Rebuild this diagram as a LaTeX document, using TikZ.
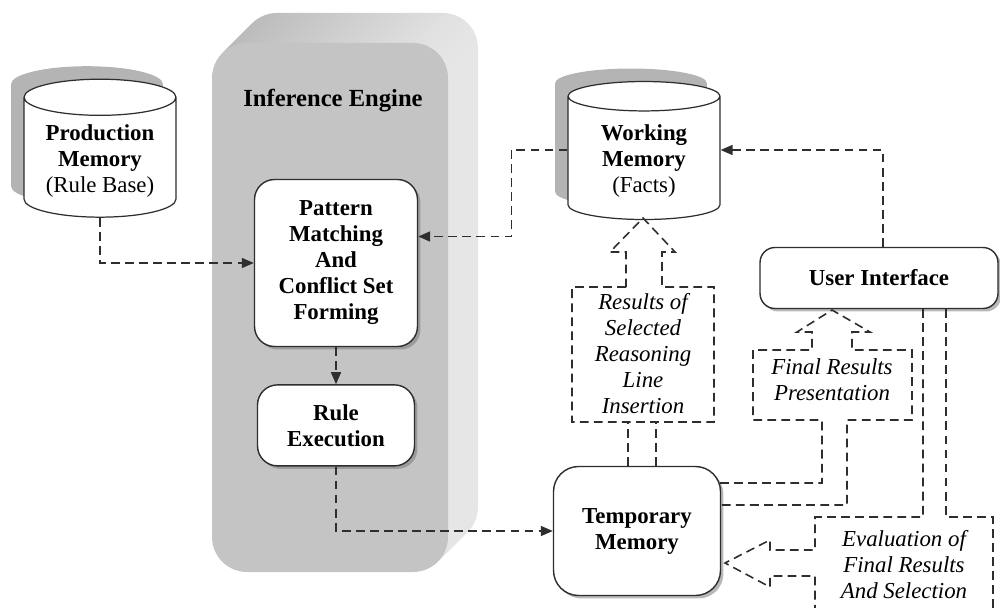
\documentclass[tikz,border=0pt]{standalone}
\usepackage{fontspec}
\setmainfont{Liberation Serif}
\usetikzlibrary{shapes.geometric,arrows.meta,positioning,shadows}
\definecolor{lineclr}{HTML}{2E2E2E}
\definecolor{iefront}{HTML}{C4C4C4}
\definecolor{iedark}{HTML}{B8B8B8}
\definecolor{ielight}{HTML}{E6E6E6}
\definecolor{shadowclr}{HTML}{B4B4B4}

\begin{document}
\begin{tikzpicture}[x=0.02cm, y=-0.02cm,
    every node/.style={font=\fontsize{13}{14.8}\selectfont, align=center, text=black},
    store/.style={cylinder, shape border rotate=90, aspect=0.3, draw=lineclr, line width=0.7pt,
        fill=white, minimum width=3.04cm, minimum height=2.76cm,
        general shadow={shadow xshift=-0.26cm, shadow yshift=0.26cm, fill=shadowclr}},
    unit/.style={draw=lineclr, line width=0.8pt, fill=white, rounded corners=0.4cm,
        font=\fontsize{13}{14.8}\selectfont\bfseries,
        drop shadow={shadow xshift=0.06cm, shadow yshift=-0.06cm, fill=black!55}},
    note/.style={font=\fontsize{13}{14.8}\selectfont\itshape},
    dashline/.style={draw=lineclr, line width=0.9pt, dash pattern=on 5pt off 3pt},
    flow/.style={dashline, -{Triangle[length=0.24cm, width=0.2cm]}},
  ]
  \useasboundingbox (0,0) rectangle (1000,608);

  % inference engine block
  \foreach \i in {30,29,...,1}
    \shade[left color=iedark, right color=ielight, rounded corners=0.7cm]
      (212+\i,43-\i) rectangle (448+\i,572-\i);
  \fill[iefront, rounded corners=0.7cm] (212,43) rectangle (448,572);
  \node[font=\fontsize{14}{16}\selectfont\bfseries] (ielabel) at (333,101) {Inference Engine};

  % memories
  \node[store] (prodmem) at (100,161) {\textbf{Production}\\\textbf{Memory}\\(Rule Base)};
  \node[store] (workmem) at (644,161) {\textbf{Working}\\\textbf{Memory}\\(Facts)};

  % units
  \node[unit, minimum width=3.26cm, minimum height=3.34cm] (pattern) at (336,263)
      {Pattern\\Matching\\And\\Conflict Set\\Forming};
  \node[unit, minimum width=3.14cm, minimum height=1.62cm, below=0.74cm of pattern] (rule)
      {Rule\\Execution};
  \node[unit, minimum width=3.34cm, minimum height=2.58cm, rounded corners=0.5cm] (temp) at (637,531)
      {Temporary\\Memory};
  \node[unit, minimum width=4.76cm, minimum height=1.22cm, rounded corners=0.3cm] (ui) at (879,278)
      {User Interface};

  % labels of the block arrows
  \node[note] (results) at (643,354) {Results of\\Selected\\Reasoning\\Line\\Insertion};
  \node[note] (final) at (832,380) {Final Results\\Presentation};
  \node[note] (evaluation) at (904,565) {Evaluation of\\Final Results\\And Selection};

  % connectors
  \draw[flow] (prodmem.south) |- (pattern.west);
  \draw[flow] ([yshift=0.22cm]workmem.west) -- ++(-56,0) |- ([yshift=0.53cm]pattern.east);
  \draw[flow] ([xshift=0.08cm]ui.north) |- ([yshift=0.22cm]workmem.east);
  \draw[flow] (pattern) -- (rule);
  \draw[flow] (rule.south) |- (temp.west);

  % block arrows
  \draw[dashline] (628,466) -- (628,422) (656,466) -- (656,422);
  \draw[dashline] (626,287) -- (572,287) -- (572,422) -- (714,422) -- (714,287) -- (662,287)
      -- (662,252) -- (675,252) -- (643,218) -- (610,252) -- (626,252) -- cycle;
  \draw[dashline] (720,483) -- (822,483) -- (822,420) -- (753,420) -- (753,350) -- (812,350)
      -- (812,332) -- (797,332) -- (832,310) -- (870,332) -- (852,332) -- (852,350)
      -- (912,350) -- (912,420) -- (847,420) -- (847,505) -- (720,505);
  \draw[dashline] (923,309) -- (923,517) -- (815,517) -- (815,550) -- (770,550) -- (770,540)
      -- (725,563) -- (770,587) -- (770,576) -- (815,576) -- (815,608);
  \draw[dashline] (946,309) -- (946,517) -- (993,517) -- (993,608);
\end{tikzpicture}
\end{document}
